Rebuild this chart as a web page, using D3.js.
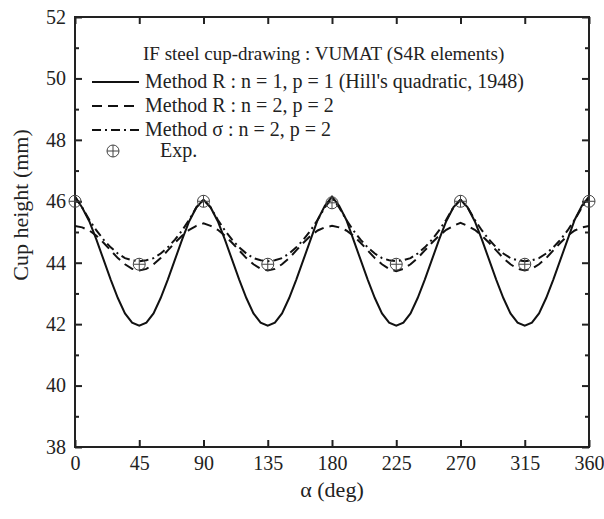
<!DOCTYPE html>
<html>
<head>
<meta charset="utf-8">
<script src="https://cdn.jsdelivr.net/npm/d3@7"></script>
<style>
  body { margin: 0; background: #fff; }
  svg text { font-family: "Liberation Serif", "Times New Roman", serif; }
</style>
</head>
<body>
<svg width="604" height="519"></svg>
<script>
let svg = d3.select("svg");

let plot_left = 75, plot_right = 589;
let plot_top = 17, plot_bottom = 447;

// angle in degrees, every 5 deg
let angles = [0, 5, 10, 15, 20, 25, 30, 35, 40, 45, 50, 55, 60, 65, 70, 75, 80, 85, 90,
  95, 100, 105, 110, 115, 120, 125, 130, 135, 140, 145, 150, 155, 160, 165, 170, 175, 180,
  185, 190, 195, 200, 205, 210, 215, 220, 225, 230, 235, 240, 245, 250, 255, 260, 265, 270,
  275, 280, 285, 290, 295, 300, 305, 310, 315, 320, 325, 330, 335, 340, 345, 350, 355, 360];

let method_r_11 = [46.15, 45.8, 45.35, 44.75, 44.1, 43.45, 42.85, 42.35, 42.05, 41.95, 42.05, 42.35, 42.85, 43.45, 44.1, 44.75, 45.35, 45.8, 46.05,
  45.8, 45.35, 44.75, 44.1, 43.45, 42.85, 42.35, 42.05, 41.95, 42.05, 42.35, 42.85, 43.45, 44.1, 44.75, 45.4, 45.85, 46.15,
  45.85, 45.4, 44.75, 44.1, 43.45, 42.85, 42.35, 42.05, 41.95, 42.05, 42.35, 42.85, 43.45, 44.1, 44.75, 45.35, 45.8, 46.05,
  45.8, 45.35, 44.75, 44.1, 43.45, 42.85, 42.35, 42.05, 41.95, 42.05, 42.35, 42.85, 43.45, 44.1, 44.75, 45.4, 45.85, 46.15];

let method_r_22 = [45.2, 45.15, 45.05, 44.88, 44.65, 44.4, 44.15, 43.95, 43.8, 43.75, 43.8, 43.95, 44.15, 44.4, 44.65, 44.88, 45.07, 45.2, 45.28,
  45.2, 45.07, 44.88, 44.65, 44.4, 44.15, 43.95, 43.8, 43.75, 43.8, 43.95, 44.15, 44.4, 44.65, 44.88, 45.05, 45.15, 45.2,
  45.15, 45.05, 44.88, 44.65, 44.4, 44.15, 43.95, 43.8, 43.72, 43.8, 43.95, 44.15, 44.4, 44.65, 44.88, 45.07, 45.2, 45.3,
  45.2, 45.07, 44.88, 44.65, 44.4, 44.15, 43.95, 43.8, 43.75, 43.8, 43.95, 44.15, 44.4, 44.65, 44.88, 45.05, 45.15, 45.2];

let method_s_22 = [46.15, 45.8, 45.4, 45.05, 44.75, 44.5, 44.3, 44.15, 44.08, 44.05, 44.08, 44.15, 44.3, 44.5, 44.75, 45.05, 45.4, 45.8, 46.05,
  45.8, 45.4, 45.05, 44.75, 44.5, 44.3, 44.15, 44.08, 44.05, 44.08, 44.15, 44.3, 44.5, 44.75, 45.05, 45.4, 45.8, 46.1,
  45.8, 45.4, 45.05, 44.75, 44.5, 44.3, 44.15, 44.08, 44.05, 44.08, 44.15, 44.3, 44.5, 44.75, 45.05, 45.4, 45.8, 46.05,
  45.8, 45.4, 45.05, 44.75, 44.5, 44.3, 44.15, 44.08, 44.05, 44.08, 44.15, 44.3, 44.5, 44.75, 45.05, 45.4, 45.8, 46.1];

let exp_angles = [0, 45, 90, 135, 180, 225, 270, 315, 360];
let exp_heights = [46.0, 43.95, 46.0, 43.95, 45.95, 43.95, 46.0, 43.95, 46.0];

let x_ticks = [0, 45, 90, 135, 180, 225, 270, 315, 360];
let y_ticks = [38, 40, 42, 44, 46, 48, 50, 52];
let y_minor = [39, 41, 43, 45, 47, 49, 51];

let legend_title = "IF steel cup-drawing : VUMAT (S4R elements)";
let legend_labels = ["Method R : n = 1, p = 1 (Hill's quadratic, 1948)", "Method R : n = 2, p = 2", "Method \u03c3 : n = 2, p = 2"];
let dash_styles = [null, "10,6", "9,4,2,4"];

let x_scale = d3.scaleLinear().domain([0, 360]).range([plot_left, plot_right]);
let y_scale = d3.scaleLinear().domain([38, 52]).range([plot_bottom, plot_top]);

const styleAxis = function(g, size) {
  // d3 puts sans-serif on the axis group, drop it so the page serif is used
  g.attr("font-family", null).attr("font-size", null);
  g.select(".domain").remove();
  g.selectAll(".tick line").attr("stroke", "#222").attr("stroke-width", 2);
  g.selectAll(".tick text")
    .style("font-family", "'Liberation Serif', 'Times New Roman', serif")
    .style("font-size", size + "px")
    .attr("fill", "#222");
}

// left / right axes (ticks point inward)
svg.append("g")
  .attr("transform", "translate(" + plot_left + ",0)")
  .call(d3.axisLeft(y_scale).tickValues(y_ticks).tickSize(-7).tickPadding(9).tickFormat(d3.format("d")))
  .call(styleAxis, 20);
svg.append("g")
  .attr("transform", "translate(" + plot_left + ",0)")
  .call(d3.axisLeft(y_scale).tickValues(y_minor).tickSize(-4).tickFormat(""))
  .call(styleAxis, 20);
svg.append("g")
  .attr("transform", "translate(" + plot_right + ",0)")
  .call(d3.axisRight(y_scale).tickValues(y_ticks).tickSize(-7).tickFormat(""))
  .call(styleAxis, 20);
svg.append("g")
  .attr("transform", "translate(" + plot_right + ",0)")
  .call(d3.axisRight(y_scale).tickValues(y_minor).tickSize(-4).tickFormat(""))
  .call(styleAxis, 20);

// bottom / top axes
svg.append("g")
  .attr("transform", "translate(0," + plot_bottom + ")")
  .call(d3.axisBottom(x_scale).tickValues(x_ticks).tickSize(-7).tickPadding(9))
  .call(styleAxis, 20);
svg.append("g")
  .attr("transform", "translate(0," + plot_top + ")")
  .call(d3.axisTop(x_scale).tickValues(x_ticks).tickSize(-7).tickFormat(""))
  .call(styleAxis, 20);

// frame
svg.append("rect")
  .attr("x", plot_left)
  .attr("y", plot_top)
  .attr("width", plot_right - plot_left)
  .attr("height", plot_bottom - plot_top)
  .attr("fill", "none")
  .attr("stroke", "#222")
  .attr("stroke-width", 2);

// axis titles
svg.append("text")
  .attr("x", (plot_left + plot_right) / 2)
  .attr("y", 497)
  .attr("text-anchor", "middle")
  .style("font-size", "22px")
  .attr("fill", "#222")
  .text("\u03b1 (deg)");
svg.append("text")
  .attr("transform", "translate(28,205) rotate(-90)")
  .attr("text-anchor", "middle")
  .style("font-size", "22px")
  .attr("fill", "#222")
  .text("Cup height (mm)");

// curves
let series = [method_r_11, method_r_22, method_s_22];
let line = d3.line()
  .x((d, i) => x_scale(angles[i]))
  .y((d) => y_scale(d));

svg.append("clipPath").attr("id", "clip")
  .append("rect")
  .attr("x", plot_left).attr("y", plot_top)
  .attr("width", plot_right - plot_left).attr("height", plot_bottom - plot_top);

svg.append("g")
  .attr("clip-path", "url(#clip)")
  .selectAll("path.curve")
  .data(series)
  .enter().append("path")
    .attr("class", "curve")
    .attr("d", line)
    .attr("fill", "none")
    .attr("stroke", "#111")
    .attr("stroke-width", 2)
    .attr("stroke-dasharray", (d, i) => dash_styles[i]);

// experimental points
const drawExp = function(sel) {
  sel.append("circle")
    .attr("r", 6)
    .attr("fill", "none")
    .attr("stroke", "#444")
    .attr("stroke-width", 1);
  sel.append("line")
    .attr("x1", -6).attr("x2", 6)
    .attr("stroke", "#444").attr("stroke-width", 1);
  sel.append("line")
    .attr("y1", -6).attr("y2", 6)
    .attr("stroke", "#444").attr("stroke-width", 1);
}

svg.append("g")
  .selectAll("g.exp")
  .data(exp_heights)
  .enter().append("g")
    .attr("class", "exp")
    .attr("transform", (d, i) => "translate(" + x_scale(exp_angles[i]) + "," + y_scale(d) + ")")
    .each(function() { drawExp(d3.select(this)); });

// legend
let legend = svg.append("g").attr("class", "legend");
legend.append("text")
  .attr("x", 143)
  .attr("y", 60)
  .style("font-size", "19px")
  .attr("fill", "#222")
  .text(legend_title);

let entries = legend.selectAll("g.entry")
  .data(legend_labels)
  .enter().append("g")
    .attr("class", "entry")
    .attr("transform", (d, i) => "translate(0," + (82 + i * 24) + ")");
entries.append("line")
  .attr("x1", 92).attr("x2", 139)
  .attr("stroke", "#111")
  .attr("stroke-width", 2)
  .attr("stroke-dasharray", (d, i) => dash_styles[i]);
entries.append("text")
  .attr("x", 145)
  .attr("y", 6)
  .style("font-size", "20px")
  .attr("fill", "#222")
  .text((d) => d);

let exp_entry = legend.append("g").attr("transform", "translate(113,151)");
drawExp(exp_entry);
legend.append("text")
  .attr("x", 160)
  .attr("y", 157)
  .style("font-size", "20px")
  .attr("fill", "#222")
  .text("Exp.");
</script>
</body>
</html>
